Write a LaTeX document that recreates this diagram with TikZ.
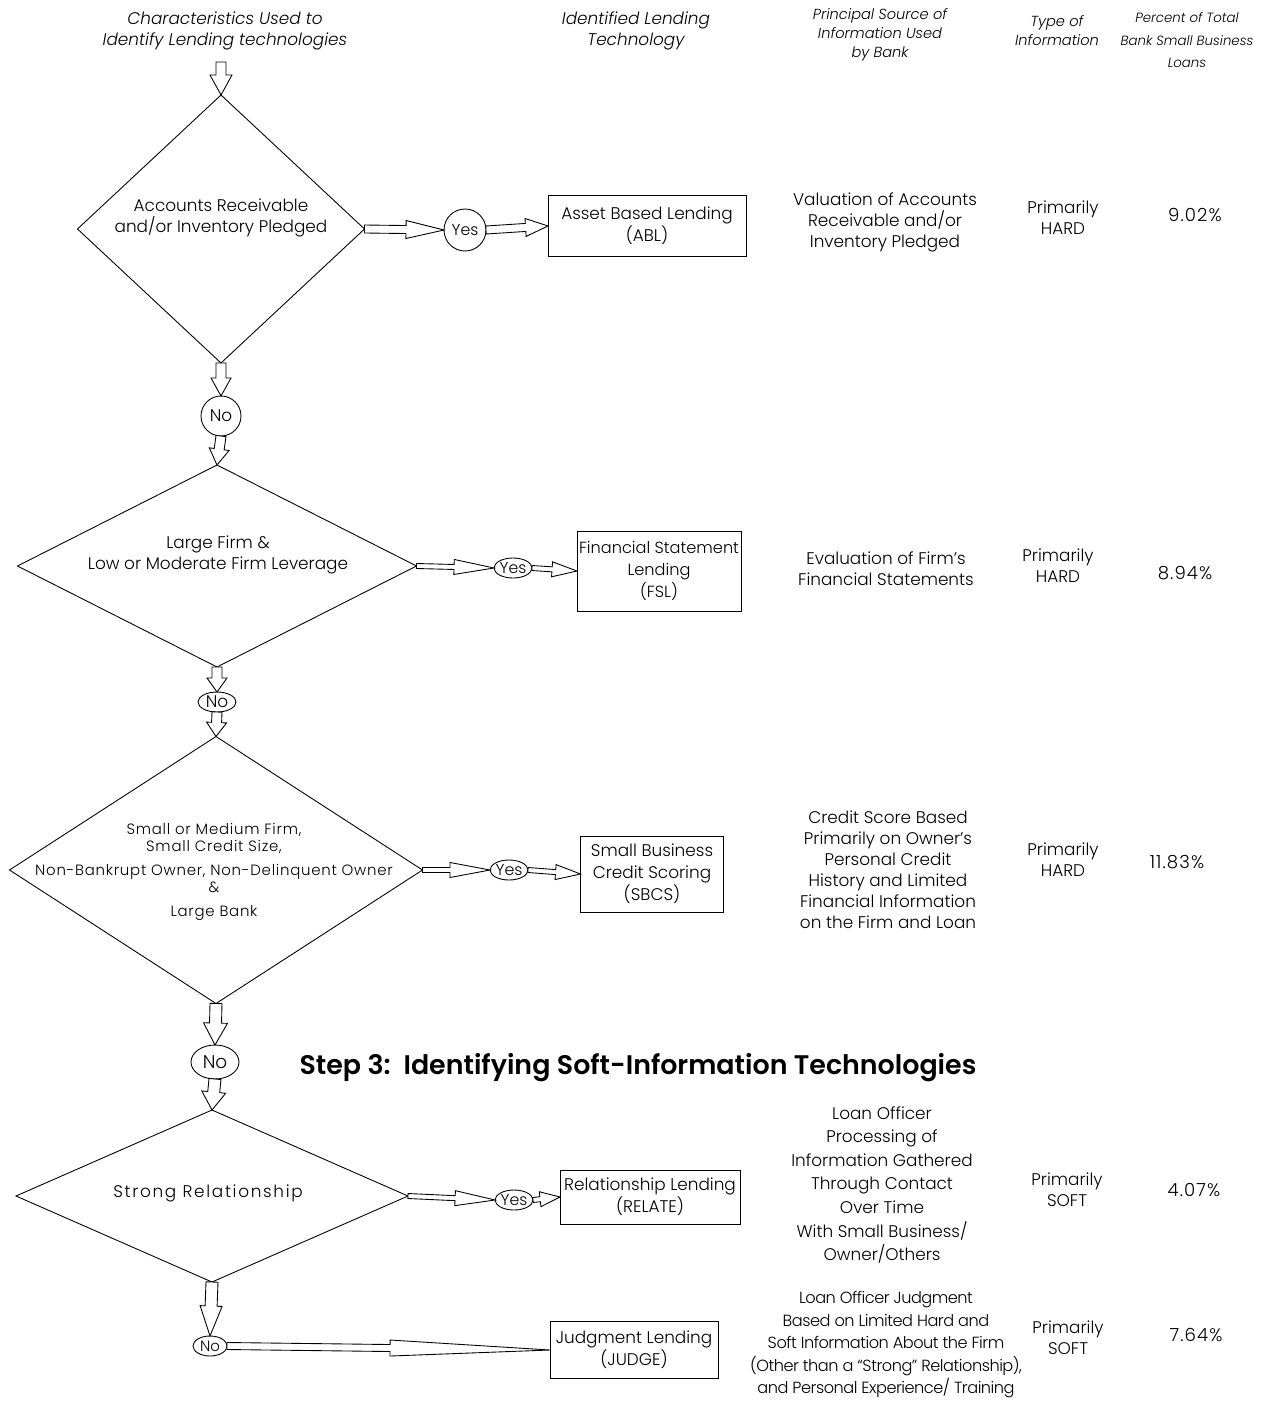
\documentclass[tikz,border=0pt]{standalone}
\usepackage{fontspec}
\setmainfont{Poppins}[UprightFont=* Light, ItalicFont=* Light Italic, BoldFont=* SemiBold]
\usetikzlibrary{shapes.geometric,calc}

\newcommand{\pxu}{0.02cm}
\newcommand{\hollowarrow}[5]{%
  \coordinate (ha-s) at (#1);
  \coordinate (ha-e) at (#2);
  \coordinate (ha-m) at ($(ha-e)!#3!(ha-s)$);
  \draw[fill=white, line join=miter]
    ($(ha-s)!#4!90:(ha-e)$) -- ($(ha-m)!#4!90:(ha-e)$) -- ($(ha-m)!#5!90:(ha-e)$)
    -- (ha-e) -- ($(ha-m)!#5!-90:(ha-e)$) -- ($(ha-m)!#4!-90:(ha-e)$)
    -- ($(ha-s)!#4!-90:(ha-e)$) -- cycle;
}

\begin{document}
\begin{tikzpicture}[x=0.02cm, y=-0.02cm, line width=0.5pt,
    cond node/.style={diamond, draw, inner sep=0pt, outer sep=0pt},
    answer node/.style={ellipse, draw, inner sep=0pt, outer sep=0pt, font=\fontsize{8.5}{10}\selectfont},
    tech node/.style={rectangle, draw, inner sep=0pt, outer sep=0pt, align=center, font=\fontsize{9.6}{12.5}\selectfont},
    text node/.style={align=center, font=\fontsize{9.6}{12}\selectfont},
    small node/.style={align=center, font=\fontsize{8.5}{9.8}\selectfont\addfontfeature{LetterSpace=5}},
    pct node/.style={font=\fontsize{10.3}{12}\selectfont\addfontfeature{LetterSpace=6}},
    head node/.style={align=center, font=\itshape\fontsize{9.6}{12}\selectfont},
    subhead node/.style={align=center, font=\itshape\fontsize{8.3}{10.8}\selectfont}]

  \useasboundingbox (0, 0) rectangle (1262, 1406);

  \node[head node] (col-char) at (225, 31) {Characteristics Used to\\Identify Lending technologies};
  \node[head node] (col-tech) at (636, 31) {Identified Lending\\Technology};
  \node[subhead node] (col-src) at (880, 35) {Principal Source of\\Information Used\\by Bank};
  \node[subhead node] (col-type) at (1057, 31) {Type of\\Information};
  \node[subhead node, font=\itshape\fontsize{7.6}{13}\selectfont] (col-pct) at (1187, 40) {Percent of Total\\Bank Small Business\\Loans};

  \coordinate (start) at (221, 62);

  \node[cond node, minimum width=287*\pxu, minimum height=268*\pxu] (acc) at (221, 229) {};
  \node[text node] (acc-txt) at (221, 218) {Accounts Receivable\\and/or Inventory Pledged};
  \node[answer node, circle, minimum size=42*\pxu, font=\fontsize{9}{10}\selectfont] (yes1) at (465, 230) {Yes};
  \node[tech node, minimum width=198*\pxu, minimum height=61*\pxu] (abl) at (647, 226) {Asset Based Lending\\(ABL)};
  \node[text node] (abl-src) at (885, 222) {Valuation of Accounts\\Receivable and/or\\Inventory Pledged};
  \node[text node] (abl-type) at (1063, 218) {Primarily\\HARD};
  \node[pct node] (abl-pct) at (1195, 215) {9.02\%};

  \node[answer node, circle, minimum size=40*\pxu, font=\fontsize{9.6}{12}\selectfont] (no1) at (221, 416) {No};

  \node[cond node, minimum width=399*\pxu, minimum height=202*\pxu] (large) at (217, 566) {};
  \node[text node] (large-txt) at (218, 555) {Large Firm \&\\Low or Moderate Firm Leverage};
  \node[answer node, minimum width=36*\pxu, minimum height=20*\pxu, font=\fontsize{9}{10}\selectfont] (yes2) at (513, 568) {Yes};
  \node[tech node, minimum width=164*\pxu, minimum height=80*\pxu, font=\fontsize{9.2}{12.5}\selectfont] (fsl) at (659, 571) {Financial Statement\\Lending\\(FSL)};
  \node[text node] (fsl-src) at (886, 569) {Evaluation of Firm’s\\Financial Statements};
  \node[text node] (fsl-type) at (1058, 566) {Primarily\\HARD};
  \node[pct node] (fsl-pct) at (1185, 573) {8.94\%};

  \node[answer node, minimum width=38*\pxu, minimum height=20*\pxu, font=\fontsize{9.6}{12}\selectfont] (no2) at (217, 702) {No};

  \node[cond node, minimum width=413*\pxu, minimum height=267*\pxu] (small) at (216, 870) {};
  \node[small node] (small-txt) at (214, 872) {Small or Medium Firm,\\Small Credit Size,\\[3.8pt]Non-Bankrupt Owner, Non-Delinquent Owner\\\&\\[3.8pt]Large Bank};
  \node[answer node, minimum width=32*\pxu, minimum height=20*\pxu, font=\fontsize{9}{10}\selectfont] (yes3) at (509, 870) {Yes};
  \node[tech node, minimum width=143*\pxu, minimum height=76*\pxu] (sbcs) at (652, 874) {Small Business\\Credit Scoring\\(SBCS)};
  \node[text node] (sbcs-src) at (888, 870) {Credit Score Based\\Primarily on Owner’s\\Personal Credit\\History and Limited\\Financial Information\\on the Firm and Loan};
  \node[text node] (sbcs-type) at (1063, 860) {Primarily\\HARD};
  \node[pct node] (sbcs-pct) at (1177, 862) {11.83\%};

  \node[answer node, minimum width=48*\pxu, minimum height=34*\pxu, font=\fontsize{10.5}{12}\selectfont] (no3) at (215, 1062) {No};
  \node[font=\bfseries\fontsize{15.3}{18}\selectfont] (step3) at (638, 1068) {Step 3:\ \ Identifying Soft-Information Technologies};

  \node[cond node, minimum width=392*\pxu, minimum height=172*\pxu] (strong) at (212, 1196) {};
  \node[text node, font=\fontsize{9.6}{12}\selectfont\addfontfeature{LetterSpace=10}] (strong-txt) at (208, 1193) {Strong Relationship};
  \node[answer node, minimum width=34*\pxu, minimum height=20*\pxu, font=\fontsize{9}{10}\selectfont] (yes4) at (514, 1200) {Yes};
  \node[tech node, minimum width=180*\pxu, minimum height=54*\pxu] (relate) at (650, 1197) {Relationship Lending\\(RELATE)};
  \node[text node, font=\fontsize{9.6}{13.4}\selectfont] (relate-src) at (882, 1185) {Loan Officer\\Processing of\\Information Gathered\\Through Contact\\Over Time\\With Small Business/\\Owner/Others};
  \node[text node] (relate-type) at (1067, 1190) {Primarily\\SOFT};
  \node[pct node] (relate-pct) at (1194, 1190) {4.07\%};

  \node[answer node, minimum width=34*\pxu, minimum height=20*\pxu] (no4) at (210, 1346) {No};
  \node[tech node, minimum width=168*\pxu, minimum height=57*\pxu] (judge) at (634, 1350) {Judgment Lending\\(JUDGE)};
  \node[text node, font=\fontsize{9.2}{12.8}\selectfont\addfontfeature{LetterSpace=-3}] (judge-src) at (886, 1345) {Loan Officer Judgment\\Based on Limited Hard and\\Soft Information About the Firm\\(Other than a “Strong” Relationship),\\and Personal Experience/ Training};
  \node[text node] (judge-type) at (1068, 1338) {Primarily\\SOFT};
  \node[pct node] (judge-pct) at (1196, 1335) {7.64\%};

  \hollowarrow{start}{acc.north}{0.4cm}{0.1cm}{0.22cm}
  \hollowarrow{acc.east}{yes1.west}{0.76cm}{0.08cm}{0.18cm}
  \hollowarrow{yes1.east}{abl.west}{0.45cm}{0.08cm}{0.18cm}
  \hollowarrow{acc.south}{no1.north}{0.36cm}{0.1cm}{0.2cm}
  \hollowarrow{no1.south}{large.north}{0.32cm}{0.1cm}{0.2cm}
  \hollowarrow{large.east}{yes2.west}{0.8cm}{0.05cm}{0.15cm}
  \hollowarrow{yes2.east}{fsl.west}{0.5cm}{0.05cm}{0.15cm}
  \hollowarrow{large.south}{no2.north}{0.28cm}{0.1cm}{0.2cm}
  \hollowarrow{no2.south}{small.north}{0.28cm}{0.1cm}{0.2cm}
  \hollowarrow{small.east}{yes3.west}{0.8cm}{0.05cm}{0.15cm}
  \hollowarrow{yes3.east}{sbcs.west}{0.5cm}{0.05cm}{0.15cm}
  \hollowarrow{small.south}{no3.north}{0.44cm}{0.12cm}{0.24cm}
  \hollowarrow{no3.south}{strong.north}{0.36cm}{0.12cm}{0.24cm}
  \hollowarrow{strong.east}{yes4.west}{0.8cm}{0.05cm}{0.15cm}
  \hollowarrow{yes4.east}{relate.west}{0.4cm}{0.05cm}{0.15cm}
  \hollowarrow{strong.south}{no4.north}{0.6cm}{0.12cm}{0.22cm}
  \hollowarrow{no4.east}{judge.west}{3.2cm}{0.07cm}{0.16cm}

\end{tikzpicture}
\end{document}
